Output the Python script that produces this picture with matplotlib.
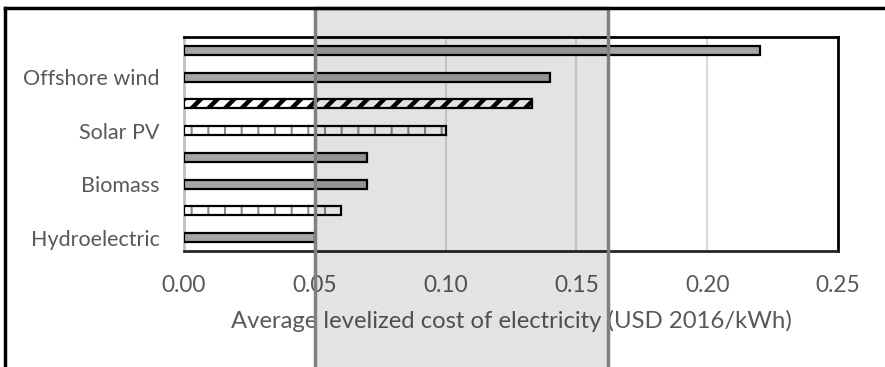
import matplotlib.pyplot as plt
import matplotlib.transforms as mtransforms
from matplotlib.patches import Rectangle
from matplotlib.lines import Line2D

# Levelized cost per technology, bottom to top
tick_labels = ['Hydroelectric', '', 'Biomass', '', 'Solar PV', '', 'Offshore wind', '']
costs = [0.05, 0.06, 0.07, 0.07, 0.10, 0.133, 0.14, 0.22]
fills = ['plain', 'grid', 'plain', 'plain', 'grid', 'diag', 'plain', 'plain']
x_ticks = [0.00, 0.05, 0.10, 0.15, 0.20, 0.25]
band = (0.05, 0.162)  # fossil fuel cost range

plt.rcParams['font.family'] = ['Lato', 'DejaVu Sans']
text_col = '#595959'

fig = plt.figure(figsize=(8.85, 3.67), dpi=100)
ax = fig.add_axes([0.2079, 0.3161, 0.7390, 0.5831])

ypos = list(range(len(costs)))
for y, v, f in zip(ypos, costs, fills):
    if f == 'plain':
        ax.barh(y, v, height=0.33, color='#a6a6a6', edgecolor='black', linewidth=1.6, zorder=3)
    elif f == 'grid':
        plt.rcParams['hatch.linewidth'] = 1.5
        ax.barh(y, v, height=0.33, color='white', edgecolor='#8c8c8c', hatch='|', linewidth=0, zorder=3)
        ax.barh(y, v, height=0.33, fill=False, edgecolor='black', linewidth=1.6, zorder=4)
    else:
        plt.rcParams['hatch.linewidth'] = 3.2
        ax.barh(y, v, height=0.33, color='white', edgecolor='black', hatch='//', linewidth=0, zorder=3)
        ax.barh(y, v, height=0.33, fill=False, edgecolor='black', linewidth=1.6, zorder=4)

ax.set_xlim(0, 0.25)
ax.set_ylim(-0.5, len(costs) - 0.5)
ax.set_xticks(x_ticks)
ax.set_xticklabels([f'{t:.2f}' for t in x_ticks])
ax.set_yticks(ypos)
ax.set_yticklabels(tick_labels)
ax.tick_params(axis='both', length=0, labelcolor=text_col)
ax.tick_params(axis='y', labelsize=15.5, pad=17.5)
ax.tick_params(axis='x', labelsize=16.3, pad=17.5)
ax.grid(axis='x', color='#d9d9d9', linewidth=1.5, zorder=0)
ax.set_axisbelow(True)
ax.set_xlabel('Average levelized cost of electricity (USD 2016/kWh)', fontsize=17.2,
              color=text_col, labelpad=10)

for side in ['top', 'right']:
    ax.spines[side].set_color('black')
    ax.spines[side].set_linewidth(2)
ax.spines['bottom'].set_color('#262626')
ax.spines['bottom'].set_linewidth(2)
ax.spines['left'].set_color('#bfbfbf')
ax.spines['left'].set_linewidth(2)

# outer chart border (top and left only in view)
fig.add_artist(Line2D([5 / 885, 1.0], [1 - 8 / 367] * 2, color='black', linewidth=2.5))
fig.add_artist(Line2D([5 / 885] * 2, [1 - 8 / 367, 0.0], color='black', linewidth=2.5))

# shaded cost band spanning the whole figure height
trans = mtransforms.blended_transform_factory(ax.transData, fig.transFigure)
top = 1 - 8 / 367
ax.add_patch(Rectangle((band[0], -0.05), band[1] - band[0], top + 0.05, transform=trans,
                       facecolor='black', alpha=0.11, linewidth=0, clip_on=False, zorder=10))
ax.add_patch(Rectangle((band[0], -0.05), band[1] - band[0], top + 0.05, transform=trans,
                       fill=False, edgecolor='#808080', linewidth=2.5, clip_on=False, zorder=11))

fig.savefig('out.png', dpi=100)
